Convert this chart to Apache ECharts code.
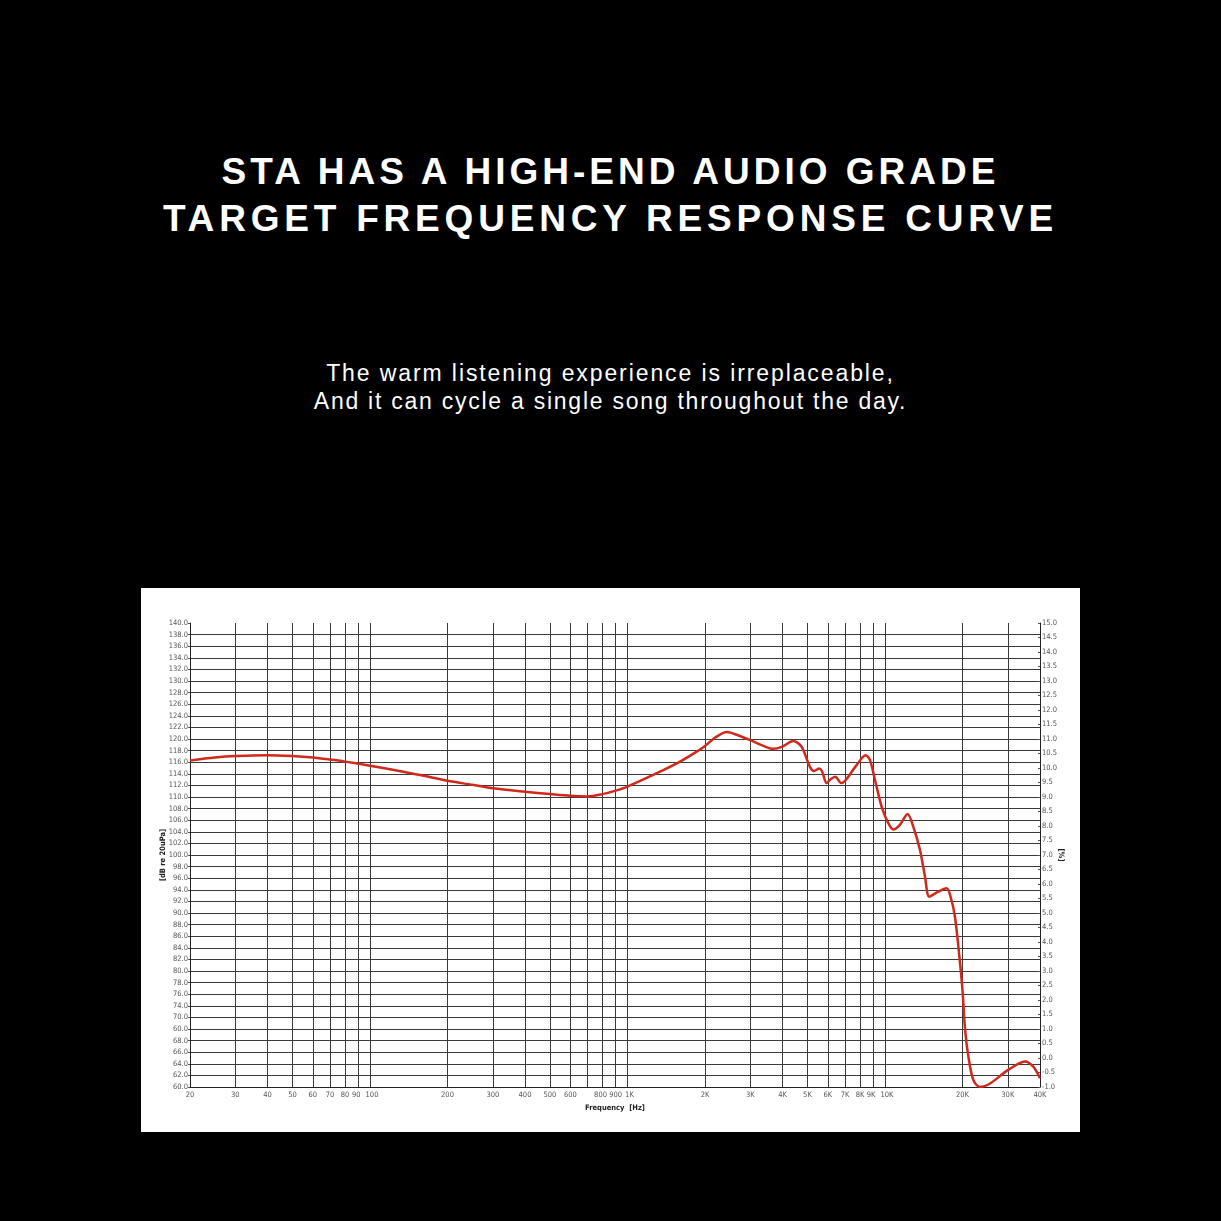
<!DOCTYPE html>
<html>
<head>
<meta charset="utf-8">
<script src="https://cdn.jsdelivr.net/npm/echarts@6/dist/echarts.min.js"></script>
<style>
  html, body { margin: 0; padding: 0; background: #000; width: 1221px; height: 1221px; overflow: hidden; }
  .t { position: absolute; left: 0; width: 1221px; text-align: center; color: #fff; white-space: nowrap; }
  .title { font-family: "Liberation Sans", Arial, sans-serif; font-weight: bold; font-size: 37px; line-height: 47px; }
  .sub { font-family: "Liberation Sans", Arial, sans-serif; font-size: 23px; line-height: 28px; }
  #chart { position: absolute; left: 141px; top: 588px; width: 939px; height: 544px; background: #fff; }
</style>
</head>
<body>
<div class="t title" style="top:148px; letter-spacing:4.0px;">STA HAS A HIGH-END AUDIO GRADE</div>
<div class="t title" style="top:195px; letter-spacing:4.8px;">TARGET FREQUENCY RESPONSE CURVE</div>
<div class="t sub" style="top:359px; letter-spacing:1.9px;">The warm listening experience is irreplaceable,</div>
<div class="t sub" style="top:387px; letter-spacing:1.75px;">And it can cycle a single song throughout the day.</div>
<div id="chart"></div>
<script>
// Frequency response curve (Hz, dB re 20uPa)
const freqHz = [20, 25, 30, 40, 50, 60, 70, 80, 100, 130, 160, 200, 250, 300, 400, 500, 600, 700, 800, 900,
  1000, 1300, 1600, 1900, 2000, 2200, 2430, 2700, 3000, 3300, 3680, 4000, 4400, 4740, 5110, 5300, 5560, 5700,
  5935, 6150, 6410, 6760, 7000, 7760, 8410, 8740, 9150, 9710, 10300, 10770, 11430, 12240, 12880, 13670, 14300,
  14860, 15860, 17350, 17980, 18690, 19450, 20000, 20480, 21090, 22040, 23380, 25590, 30000, 35000, 37680, 40000];
const levelDb = [116.3, 116.8, 117.05, 117.2, 117.05, 116.8, 116.45, 116.1, 115.4, 114.5, 113.7, 112.8, 112.1, 111.5, 110.9, 110.5, 110.2, 110.1, 110.5, 111.1,
  111.8, 114.1, 116.1, 118.1, 118.8, 120.3, 121.2, 120.6, 119.8, 119.0, 118.3, 118.7, 119.65, 118.7, 115.2, 114.5, 114.9, 114.4,
  112.4, 113.05, 113.5, 112.4, 112.8, 115.5, 117.2, 116.4, 112.9, 108.3, 105.5, 104.4, 105.2, 107.07, 104.9, 100.9, 96.3,
  92.8, 93.5, 94.25, 92.8, 89.4, 82.5, 76.7, 69.8, 65.2, 61.2, 60.0, 60.6, 62.9, 64.4, 63.5, 61.5];

// Frequency grid lines and tick labels
const gridFreqs = [20, 30, 40, 50, 60, 70, 80, 90, 100, 200, 300, 400, 500, 600, 700, 800, 900, 1000,
  2000, 3000, 4000, 5000, 6000, 7000, 8000, 9000, 10000, 20000, 30000, 40000];
const labelFreqs = [20, 30, 40, 50, 60, 70, 80, 90, 100, 200, 300, 400, 500, 600, 800, 900, 1000,
  2000, 3000, 4000, 5000, 6000, 7000, 8000, 9000, 10000, 20000, 30000, 40000];
const freqLabels = ['20', '30', '40', '50', '60', '70', '80', '90', '100', '200', '300', '400', '500', '600', '800', '900', '1K',
  '2K', '3K', '4K', '5K', '6K', '7K', '8K', '9K', '10K', '20K', '30K', '40K'];

// Left axis tick labels, 60 .. 140 step 2 (as printed in the original)
const leftTickLabels = ['60.0', '62.0', '64.0', '66.0', '68.0', '60.0', '70.0', '74.0', '76.0', '78.0', '80.0',
  '82.0', '84.0', '86.0', '88.0', '90.0', '92.0', '94.0', '96.0', '98.0', '100.0', '102.0', '104.0', '106.0',
  '108.0', '110.0', '112.0', '114.0', '116.0', '118.0', '120.0', '122.0', '124.0', '126.0', '128.0', '130.0',
  '132.0', '134.0', '136.0', '138.0', '140.0'];

const lg = v => Math.log10(v);
const labelMap = {};
labelFreqs.forEach((f, i) => { labelMap[f] = freqLabels[i]; });
// labels nudged apart where they crowd together
const shiftLeft = { 90: 1, 800: 1, 9000: 1 };
const shiftRight = { 100: 1, 1000: 1, 10000: 1 };

const chart = echarts.init(document.getElementById('chart'));
const axisFont = { fontFamily: '"DejaVu Sans Condensed", "Liberation Sans Narrow", "DejaVu Sans"', fontSize: 7.5, color: '#555' };
const nameFont = { fontFamily: '"DejaVu Sans Condensed", "DejaVu Sans"', fontSize: 7.5, fontWeight: 'bold', color: '#222' };
chart.setOption({
  backgroundColor: '#fff',
  animation: false,
  grid: { left: 49, right: 40, top: 35, bottom: 45 },
  xAxis: {
    type: 'value',
    min: lg(20), max: lg(40000),
    name: 'Frequency  [Hz]',
    nameLocation: 'middle',
    nameGap: 13,
    nameTextStyle: nameFont,
    axisLine: { show: true, onZero: false, lineStyle: { color: '#222', width: 1 } },
    axisTick: { show: false, customValues: gridFreqs.map(lg) },
    axisLabel: {
      customValues: labelFreqs.map(lg),
      margin: 4,
      hideOverlap: false,
      ...axisFont,
      formatter: v => {
        const f = Math.round(Math.pow(10, v));
        const s = labelMap[f] || '';
        if (shiftLeft[f]) return '{l|' + s + '}';
        if (shiftRight[f]) return '{r|' + s + '}';
        return s;
      },
      rich: {
        l: { ...axisFont, padding: [0, 4, 0, 0] },
        r: { ...axisFont, padding: [0, 0, 0, 4] }
      }
    },
    splitLine: { show: true, lineStyle: { color: '#3a3a3a', width: 1 } }
  },
  yAxis: [
    {
      type: 'value', min: 60, max: 140, interval: 2,
      name: '[dB re 20uPa]',
      nameLocation: 'middle',
      nameGap: 23,
      nameMoveOverlap: false,
      nameTextStyle: nameFont,
      axisLine: { show: true, lineStyle: { color: '#222', width: 1 } },
      axisTick: { show: true, length: 2, lineStyle: { color: '#555' } },
      axisLabel: {
        margin: 2, ...axisFont,
        formatter: v => leftTickLabels[Math.round((v - 60) / 2)]
      },
      splitLine: { show: true, showMaxLine: false, lineStyle: { color: '#3a3a3a', width: 1 } }
    },
    {
      type: 'value', min: -1, max: 15, interval: 0.5,
      position: 'right',
      name: '[%]',
      nameLocation: 'middle',
      nameGap: 17,
      nameRotate: -90,
      nameMoveOverlap: false,
      nameTextStyle: nameFont,
      axisLine: { show: true, lineStyle: { color: '#222', width: 1 } },
      axisTick: { show: true, length: 2, inside: true, lineStyle: { color: '#555' } },
      axisLabel: { margin: 2, ...axisFont, formatter: v => v.toFixed(1) },
      splitLine: { show: false }
    }
  ],
  series: [{
    type: 'line',
    yAxisIndex: 0,
    data: freqHz.map((f, i) => [lg(f), levelDb[i]]),
    smooth: 0.3,
    showSymbol: false,
    symbol: 'none',
    lineStyle: { color: '#d0281b', width: 2.5 }
  }]
});
</script>
</body>
</html>
